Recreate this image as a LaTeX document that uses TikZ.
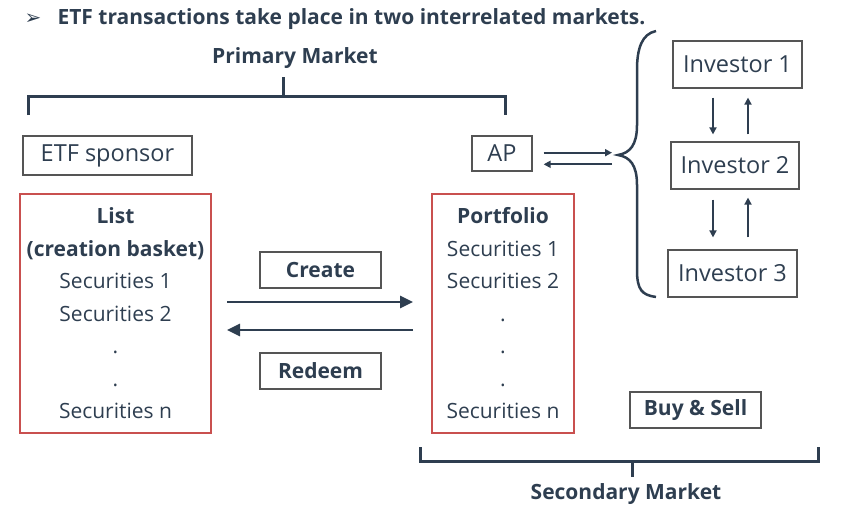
\documentclass[tikz,border=0pt]{standalone}
\usepackage{fontspec}
\setmainfont{Open Sans}
\newfontfamily\symfont{DejaVu Sans}
\usetikzlibrary{arrows.meta,positioning,calc}
\definecolor{navy}{HTML}{2E3E50}
\definecolor{boxred}{HTML}{C9504F}
\definecolor{boxgrey}{HTML}{555555}

\begin{document}
\begin{tikzpicture}[
  x=1pt,y=-1pt,
  font=\fontsize{23.5}{27}\selectfont, text=navy,
  box/.style={draw=boxgrey,line width=1.2pt,inner sep=0pt},
  redbox/.style={draw=boxred,line width=2pt,align=center,inner sep=0pt,
    minimum height=239pt,font=\fontsize{21}{32.5}\selectfont},
  bold/.style={font=\fontsize{21}{25}\selectfont\bfseries},
  arr/.style={-{Triangle[length=7pt,width=7pt]},navy,line width=2pt},
  bigarr/.style={-{Triangle[length=13pt,width=12pt]},navy,line width=2.8pt},
  brk/.style={navy,line width=3pt}
]
\useasboundingbox (0,0) rectangle (850,506);

% heading
\node (bullet) at (33,19) {\symfont\fontsize{20}{20}\selectfont ➢};
\node[bold,anchor=west] (title) at (54,19) {ETF transactions take place in two interrelated markets.};

% primary market
\node[bold] (prim) at (295,58) {Primary Market};
\draw[brk] (283,77) -- (283,96);
\draw[brk] (28,115) -- (28,96) -- (505,96) -- (505,115);
\node[box,minimum width=169pt,minimum height=39pt] (sponsor) at (107.5,155.5) {ETF sponsor};
\node[box,minimum width=60pt,minimum height=35pt] (ap) at (502,153.5) {AP};

% the two baskets
\node[redbox,minimum width=191pt] (list) at (115.5,313.5)
  {\textbf{List}\\\textbf{(creation basket)}\\Securities 1\\Securities 2\\.\\.\\Securities n};
\node[redbox,minimum width=142pt] (portf) at (503,313.5)
  {\textbf{Portfolio}\\Securities 1\\Securities 2\\.\\.\\.\\Securities n};
\node[box,bold,minimum width=121pt,minimum height=36pt] (create) at (320.5,270) {Create};
\node[box,bold,minimum width=121pt,minimum height=36pt] (redeem) at (320.5,371) {Redeem};
\draw[bigarr,shorten <=15pt,shorten >=18pt] ([yshift=11.5pt]list.east) -- ([yshift=11.5pt]portf.west);
\draw[bigarr,shorten <=18pt,shorten >=15pt] ([yshift=-16.5pt]portf.west) -- ([yshift=-16.5pt]list.east);

% investors
\node[box,minimum width=129pt,minimum height=47pt] (inv1) at (737.5,64.5) {Investor 1};
\node[box,minimum width=128pt,minimum height=47pt] (inv2) at (735,165.5) {Investor 2};
\node[box,minimum width=129pt,minimum height=47pt] (inv3) at (732.5,273.5) {Investor 3};
\draw[arr,shorten <=9pt,shorten >=7pt] ([xshift=-24.5pt]inv1.south) -- ([xshift=-24.5pt]inv1.south |- inv2.north);
\draw[arr,shorten <=7pt,shorten >=9pt] ([xshift=10.5pt]inv1.south |- inv2.north) -- ([xshift=10.5pt]inv1.south);
\draw[arr,shorten <=10pt,shorten >=12pt] ([xshift=-22pt]inv2.south) -- ([xshift=-22pt]inv2.south |- inv3.north);
\draw[arr,shorten <=12pt,shorten >=8pt] ([xshift=13pt]inv2.south |- inv3.north) -- ([xshift=13pt]inv2.south);

% brace round the investors
\coordinate (tip) at (618,155);
\draw[navy,line width=2.5pt] (656,31) .. controls (642,34) and (637,48) .. (637,70)
  -- (637,125) .. controls (637,145) and (630,153) .. (tip)
  .. controls (630,157) and (637,165) .. (637,185)
  -- (637,270) .. controls (637,290) and (642,295) .. (656,297);
\draw[arr,shorten <=11pt] ([yshift=0.8pt]ap.east) -- ([xshift=-6pt,yshift=2.3pt]tip);
\draw[arr,shorten >=11pt] ([xshift=-6pt,yshift=-9.3pt]tip) -- ([yshift=-10.8pt]ap.east);

% secondary market
\node[box,bold,minimum width=131pt,minimum height=36pt] (buysell) at (695.5,410) {Buy \& Sell};
\draw[brk] (420,447) -- (420,461) -- (818,461) -- (818,447);
\draw[brk] (632,461) -- (632,477);
\node[bold] (second) at (626,494) {Secondary Market};
\end{tikzpicture}
\end{document}
